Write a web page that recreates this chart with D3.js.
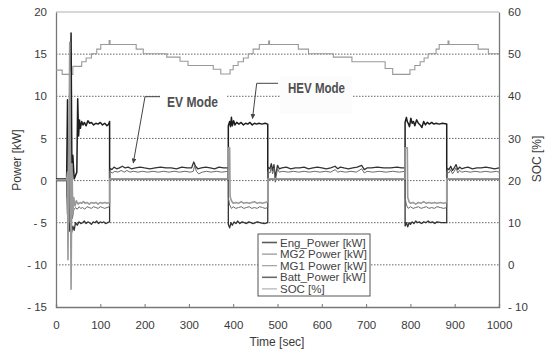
<!DOCTYPE html>
<html>
<head>
<meta charset="utf-8">
<script src="https://cdn.jsdelivr.net/npm/d3@7"></script>
<style>
  body { margin: 0; background: #fff; }
  svg text { font-family: "Liberation Sans", Arial, sans-serif; fill: #3a3a3a; }
</style>
</head>
<body>
<div id="chart"></div>
<script>
// axis ticks
const xTicks = [0, 100, 200, 300, 400, 500, 600, 700, 800, 900, 1000]
const powerTicks = [-15, -10, -5, 0, 5, 10, 15, 20]
const socTicks = [-10, 0, 10, 20, 30, 40, 50, 60]
const gridTicks = [-10, -5, 0, 5, 10, 15]

// [time sec, power kW]
const engPower = [[0,0.2],[24,0.2],[26,9.6],[27,0.2],[30,0.2],[34,17.5],[36,0.5],[38,3],[41,0.2],[47,1],[49,9.7],[51,5.3],[53,7.2],[55,6.2],[58,7.0],[61,6.6],[64,6.9],[68,6.5],[72,7.1],[76,6.8],[80,6.9],[85,6.6],[90,6.8],[95,6.7],[100,6.9],[105,6.6],[110,6.8],[115,6.5],[119,6.7],[121,7.0],[121,0.2],
  [389,0.2],[389,6.5],[392,7.0],[394,6.4],[396,7.5],[398,6.5],[401,7.1],[404,6.6],[408,6.9],[413,6.7],[418,6.9],[423,6.6],[428,6.8],[433,6.7],[438,6.9],[443,6.6],[448,6.8],[453,6.7],[458,6.8],[465,6.7],[472,6.8],[478,6.7],[478,0.2],
  [788,0.2],[788,6.9],[791,7.5],[793,7.0],[795,6.8],[798,6.4],[801,7.4],[804,6.8],[807,7.0],[810,6.5],[814,7.2],[818,6.8],[822,6.6],[826,6.3],[830,7.0],[834,6.6],[838,6.9],[843,6.7],[848,6.9],[853,6.7],[858,6.8],[865,6.7],[872,6.8],[882,6.7],[882,0.2],[1000,0.2]]

const mg2Power = [[0,0],[24,0],[25,-2],[28,5],[30,-5],[32,13],[33,-8],[35,-1],[37,-4.5],[40,-3.5],[44,-3.2],[48,-3.4],[52,-3.1],[56,-3.3],[60,-3.2],[65,-3.4],[70,-3.1],[75,-3.2],[80,-3.3],[85,-3.1],[90,-3.2],[95,-3.3],[100,-3.1],[105,-3.2],[110,-3.3],[115,-3.2],[121,-3.1],
  [121,1.1],[127,0.9],[133,1.1],[140,1.0],[147,1.2],[154,1.0],[160,1.2],[167,1.0],[175,1.1],[185,1.0],[195,1.1],[207,1.0],[219,1.1],[231,1.0],[243,1.1],[255,1.0],[267,1.1],[279,1.0],[291,1.1],[303,1.0],[310,1.1],[313,1.8],[317,1.1],[322,0.8],[330,1.0],[340,1.1],[350,1.0],[362,1.1],[374,1.0],[389,1.1],
  [389,-2.0],[392,-2.9],[396,-3.3],[400,-3.1],[406,-3.3],[412,-3.2],[418,-3.1],[424,-3.3],[430,-3.2],[436,-3.1],[442,-3.3],[448,-3.2],[454,-3.3],[460,-3.1],[466,-3.2],[472,-3.3],[478,-3.2],
  [478,1.1],[483,0.9],[486,1.6],[489,0.8],[492,1.5],[495,-0.2],[497,0.5],[500,1.4],[504,1.0],[512,1.1],[524,1.0],[536,1.1],[548,1.0],[560,1.1],[572,1.0],[584,1.1],[596,1.0],[608,1.1],[620,1.0],[630,1.3],[636,1.0],[642,1.1],[654,1.0],[666,1.1],[678,1.0],[690,1.4],[696,0.9],[702,1.1],[715,1.0],[730,1.1],[745,1.0],[760,1.1],[775,1.0],[788,1.1],
  [788,-2.0],[791,-2.9],[795,-3.3],[800,-3.1],[806,-3.3],[812,-3.2],[818,-3.1],[824,-3.3],[830,-3.2],[836,-3.1],[842,-3.3],[848,-3.2],[854,-3.3],[860,-3.1],[868,-3.2],[875,-3.3],[882,-3.2],
  [882,1.1],[887,0.9],[891,1.3],[895,0.8],[899,1.1],[903,1.5],[907,0.9],[911,1.2],[916,1.0],[924,1.1],[935,1.0],[946,1.1],[958,1.0],[970,1.1],[982,1.0],[994,1.1],[1000,1.0]]

const mg1Power = [[0,0.1],[24,0.1],[26,1],[27,-9.4],[29,2],[31,16.4],[33,-3],[34,-12.9],[36,2],[38,-4],[40,-2.0],[43,-3.0],[46,-2.4],[50,-2.8],[54,-2.6],[58,-2.7],[62,-2.5],[66,-2.7],[70,-2.6],[75,-2.8],[80,-2.6],[85,-2.7],[90,-2.6],[95,-2.8],[100,-2.6],[105,-2.7],[110,-2.6],[115,-2.7],[121,-2.6],[121,0.2],
  [389,0.2],[389,3.9],[392,3.9],[393,-1.9],[396,-2.4],[400,-2.7],[406,-2.6],[412,-2.7],[418,-2.5],[424,-2.7],[430,-2.6],[436,-2.7],[442,-2.6],[448,-2.5],[454,-2.7],[460,-2.6],[466,-2.7],[472,-2.6],[478,-2.5],[478,0.2],
  [788,0.2],[788,3.9],[793,3.9],[794,-2.0],[797,-2.5],[800,-2.7],[806,-2.6],[812,-2.8],[818,-2.6],[824,-2.7],[830,-2.5],[836,-2.7],[842,-2.6],[848,-2.7],[854,-2.6],[860,-2.7],[868,-2.6],[875,-2.7],[882,-2.6],[882,0.2],[1000,0.2]]

const battPower = [[0,0],[24,0],[26,-4],[28,-1],[31,-6],[33,-2],[35,-6.2],[38,-5.4],[41,-5.9],[44,-5.0],[48,-5.3],[52,-4.9],[56,-5.1],[60,-5.0],[64,-4.8],[68,-5.1],[72,-4.9],[76,-5.0],[80,-5.2],[84,-4.9],[88,-5.0],[92,-4.8],[96,-5.1],[100,-4.9],[104,-5.0],[108,-4.9],[112,-5.1],[116,-5.0],[121,-4.9],
  [121,1.5],[126,1.3],[131,1.6],[137,1.4],[143,1.5],[150,1.7],[156,1.5],[163,1.6],[170,1.4],[180,1.5],[190,1.6],[200,1.5],[212,1.4],[224,1.5],[236,1.6],[248,1.5],[260,1.5],[272,1.4],[284,1.6],[296,1.5],[306,1.5],[311,2.2],[315,1.7],[320,1.4],[328,1.5],[338,1.6],[348,1.5],[358,1.4],[368,1.6],[378,1.5],[389,1.5],
  [389,-5.2],[392,-5.6],[395,-5.0],[398,-5.3],[402,-4.9],[406,-5.1],[410,-4.8],[415,-5.1],[420,-4.9],[425,-5.0],[430,-5.1],[435,-4.9],[440,-5.0],[445,-5.1],[450,-5.0],[455,-4.9],[460,-5.0],[470,-5.1],[478,-5.0],
  [478,1.6],[483,1.4],[486,2.0],[489,1.2],[492,1.9],[495,0.3],[497,1.0],[500,1.8],[504,1.4],[510,1.5],[520,1.6],[530,1.4],[540,1.5],[550,1.5],[560,1.6],[570,1.4],[580,1.5],[590,1.6],[600,1.5],[610,1.4],[620,1.5],[630,1.7],[636,1.4],[642,1.6],[650,1.5],[660,1.4],[670,1.5],[680,1.6],[690,1.8],[696,1.3],[702,1.5],[712,1.5],[725,1.6],[740,1.5],[755,1.5],[770,1.6],[780,1.5],[788,1.5],
  [788,-5.4],[791,-5.0],[794,-5.5],[797,-5.0],[800,-5.2],[804,-4.9],[808,-5.1],[812,-4.8],[816,-5.0],[820,-4.9],[825,-5.1],[830,-4.9],[835,-5.0],[840,-4.8],[845,-5.0],[850,-4.9],[855,-5.1],[860,-4.9],[870,-5.0],[882,-5.0],
  [882,1.5],[887,1.3],[891,1.7],[895,1.2],[899,1.5],[903,1.9],[907,1.3],[911,1.6],[916,1.4],[922,1.5],[930,1.6],[940,1.4],[950,1.5],[960,1.5],[970,1.6],[980,1.5],[990,1.4],[1000,1.5]]

// [time sec, SOC %] (stepped)
const socPct = [[0,46.2],[14,45.2],[38,47.1],[58,48.2],[68,49.1],[80,50.1],[92,51.2],[101,52.3],[120,53.2],[122,52.3],[181,51.2],[197,50.1],[250,49.3],[280,48.3],[298,47.3],[355,46.4],[372,45.3],[393,46.3],[400,47.3],[411,48.2],[423,49.1],[434,50.1],[445,51.2],[459,52.3],[480,53.1],[482,52.3],[547,51.2],[570,50.1],[626,49.3],[668,48.2],[743,46.6],[760,45.2],[799,46.3],[810,47.3],[822,48.2],[831,49.1],[840,50.1],[858,51.2],[865,52.3],[885,53.1],[887,52.3],[953,51.2],[976,50.1],[1000,50.1]]

const seriesNames = ['Eng_Power [kW]', 'MG2 Power [kW]', 'MG1 Power [kW]', 'Batt_Power [kW]', 'SOC [%]']

const W = 550, H = 351
const pl = { l: 56, r: 499, t: 12, b: 307 }

const svg = d3.select('#chart').append('svg')
  .attr('width', W).attr('height', H)
  .attr('viewBox', [0, 0, W, H])

const x = d3.scaleLinear().domain([0, 1000]).range([pl.l, pl.r])
const y = d3.scaleLinear().domain([-15, 20]).range([pl.b, pl.t])
const ySoc = d3.scaleLinear().domain([-10, 60]).range([pl.b, pl.t])

// dotted grid
svg.append('g').selectAll('line')
  .data(gridTicks).enter().append('line')
  .attr('x1', pl.l).attr('x2', pl.r)
  .attr('y1', d => y(d)).attr('y2', d => y(d))
  .style('stroke', '#555').style('stroke-width', 0.9)
  .style('stroke-dasharray', '1.5,1.5')

// frame top
svg.append('line').attr('x1', pl.l).attr('x2', pl.r).attr('y1', pl.t).attr('y2', pl.t)
  .style('stroke', '#b0b0b0').style('stroke-width', 1.2)

// axes
const minusFmt = d => d < 0 ? '- ' + (-d) : d
const xAxis = svg.append('g')
  .attr('transform', `translate(0,${pl.b})`)
  .call(d3.axisBottom(x).tickValues(xTicks).tickSize(-3).tickPadding(14).tickFormat(d3.format('d')))
const yAxis = svg.append('g')
  .attr('transform', `translate(${pl.l},0)`)
  .call(d3.axisLeft(y).tickValues(powerTicks).tickSize(0).tickPadding(9).tickFormat(minusFmt))
const yAxisR = svg.append('g')
  .attr('transform', `translate(${pl.r},0)`)
  .call(d3.axisRight(ySoc).tickValues(socTicks).tickSize(0).tickPadding(9).tickFormat(minusFmt))

;[xAxis, yAxis, yAxisR].forEach(a => {
  a.select('.domain').style('stroke', '#777').style('stroke-width', 1.3)
  a.selectAll('.tick line').style('stroke', '#777')
  a.selectAll('.tick text').style('font-size', '11.5px').style('fill', '#3a3a3a')
    .style('font-family', '"Liberation Sans", Arial, sans-serif')
})

// axis titles
svg.append('text').attr('transform', 'translate(21,160) rotate(-90)')
  .attr('text-anchor', 'middle').style('font-size', '12px').text('Power [kW]')
svg.append('text').attr('transform', 'translate(541,159) rotate(-90)')
  .attr('text-anchor', 'middle').style('font-size', '12px').text('SOC [%]')
svg.append('text').attr('x', 277).attr('y', 346)
  .attr('text-anchor', 'middle').style('font-size', '12px').text('Time [sec]')

// annotation boxes (cover the grid)
svg.append('rect').attr('x', 160).attr('y', 86).attr('width', 66).attr('height', 28).style('fill', '#fff')
svg.append('rect').attr('x', 280).attr('y', 76).attr('width', 72).attr('height', 38).style('fill', '#fcfcfc')

// series
const line = d3.line().x(d => x(d[0])).y(d => y(d[1]))
const socLine = d3.line().x(d => x(d[0])).y(d => ySoc(d[1])).curve(d3.curveStepAfter)

svg.append('path').datum(socPct).attr('d', socLine)
  .style('fill', 'none').style('stroke', '#999').style('stroke-width', 1.1)

// draw order: engine under the rest, MG1 last so its light trace sits on the zero level
const styles = [
  { data: engPower, color: '#1e1e1e', w: 1.5 },
  { data: battPower, color: '#333', w: 1.3 },
  { data: mg2Power, color: '#6a6a6a', w: 1 },
  { data: mg1Power, color: '#9a9a9a', w: 1.6 },
]
styles.forEach(s => {
  svg.append('path').datum(s.data).attr('d', line)
    .style('fill', 'none').style('stroke', s.color).style('stroke-width', s.w)
    .style('stroke-linejoin', 'round')
})

// mode labels with leaders
svg.append('defs').append('marker').attr('id', 'arr')
  .attr('viewBox', '0 0 10 10').attr('refX', 9).attr('refY', 5)
  .attr('markerWidth', 5).attr('markerHeight', 5).attr('orient', 'auto')
  .append('path').attr('d', 'M0,0 L10,5 L0,10 z').style('fill', '#444')

svg.append('path')
  .attr('d', 'M 160,96.7 L 145,96.7 L 133.3,163')
  .style('fill', 'none').style('stroke', '#444').style('stroke-width', 1)
  .attr('marker-end', 'url(#arr)')
svg.append('path')
  .attr('d', 'M 278,83.3 L 256.7,83.3 L 252.5,118.5')
  .style('fill', 'none').style('stroke', '#444').style('stroke-width', 1)
  .attr('marker-end', 'url(#arr)')

svg.append('text').attr('x', 167).attr('y', 107)
  .attr('textLength', 51).attr('lengthAdjust', 'spacingAndGlyphs')
  .style('font-size', '14px').style('font-weight', 'bold').style('fill', '#4f4f4f').text('EV Mode')
svg.append('text').attr('x', 288).attr('y', 93)
  .attr('textLength', 57).attr('lengthAdjust', 'spacingAndGlyphs')
  .style('font-size', '14px').style('font-weight', 'bold').style('fill', '#4f4f4f').text('HEV Mode')

// legend
const lg = svg.append('g').attr('transform', 'translate(258,234)')
lg.append('rect').attr('width', 112).attr('height', 62)
  .style('fill', '#fff').style('stroke', '#555').style('stroke-width', 1)
const legendColors = ['#5a5a5a', '#888', '#999', '#6a6a6a', '#aaa']
const rows = lg.selectAll('g.row').data(seriesNames).enter().append('g')
  .attr('class', 'row')
  .attr('transform', (d, i) => `translate(0,${8.5 + i * 11.6})`)
rows.append('line').attr('x1', 4).attr('x2', 19).attr('y1', 0).attr('y2', 0)
  .style('stroke', (d, i) => legendColors[i]).style('stroke-width', (d, i) => i === 0 || i === 3 ? 1.6 : 1.1)
rows.append('text').attr('x', 22).attr('dy', '0.36em')
  .style('font-size', '11.5px').style('fill', '#444').text(d => d)
</script>
</body>
</html>
